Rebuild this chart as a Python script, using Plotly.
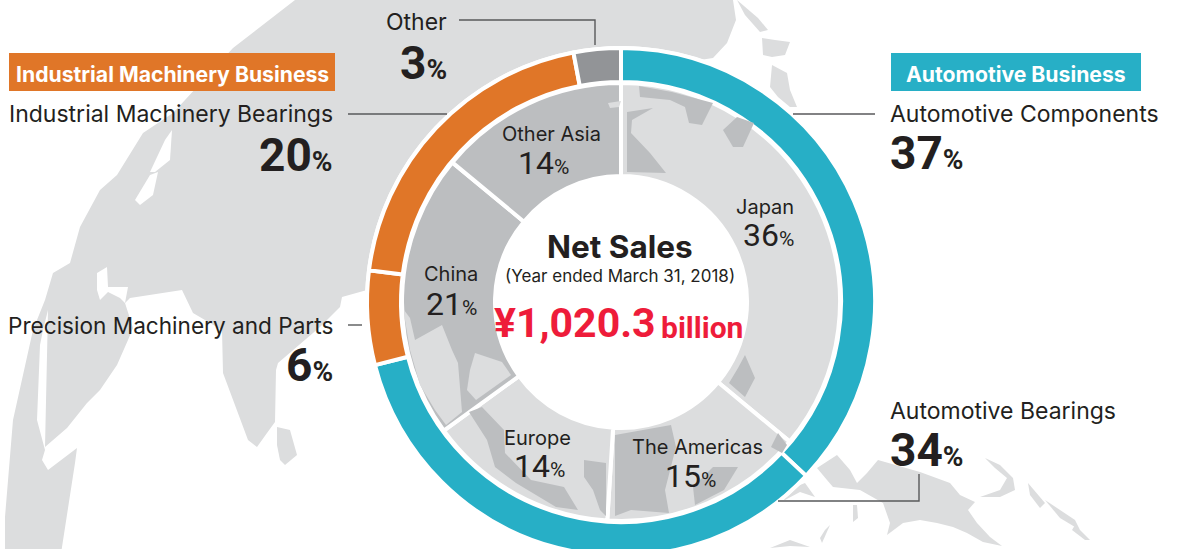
import plotly.graph_objects as go

# ---- data ----
business_labels = ["Automotive Components", "Automotive Bearings", "Precision Machinery and Parts",
                   "Industrial Machinery Bearings", "Other"]
business_values = [37, 34, 6, 20, 3]
business_colors = ["#27afc6", "#27afc6", "#e07628", "#e07628", "#929497"]

region_labels = ["Japan", "The Americas", "Europe", "China", "Other Asia"]
region_values = [36, 15, 14, 21, 14]
region_colors = ["#dcddde", "#dcddde", "#dcddde", "#bcbec0", "#bcbec0"]

INK = "#231f20"
LIGHT = "#dcddde"
DARK = "#bcbec0"
FONT = "Inter"
NUM = "Roboto"
W, H = 1177, 560
CX, CY = 621, 302

# ---- decorative background map (pixel outlines) ----
map_land = [
    [(295,0),(233,48),(173,113),(143,133),(117,175),(100,190),(80,227),(70,263),(53,273),(45,300),(33,330),(13,420),(5,517),(5,560),
     (60,560),(75,463),(77,448),(48,470),(42,460),(45,450),(37,420),(40,345),(43,330),(48,310),(45,447),(67,428),(87,403),(100,390),(117,365),(128,340),(133,328),
     (125,303),(130,298),(182,290),(193,313),(222,330),(223,373),(248,440),(257,447),(267,433),(275,422),(276,370),(278,363),(320,327),(340,307),(342,297),(367,290),
     (621,302),(700,60),(713,58),(727,43),(736,20),(733,0)],
    [(277,427),(290,430),(297,455),(285,465),(280,460),(277,445)],
    [(737,0),(758,18),(768,30),(760,32),(745,15)],
    [(762,38),(775,40),(790,42),(785,55),(772,57),(763,55)],
    [(772,65),(787,73),(790,90),(797,107),(790,107),(778,97),(770,87)],
    # Papua
    [(817,468),(837,455),(850,470),(857,483),(867,473),(878,460),(920,472),(950,483),(960,495),(975,502),(968,510),(977,523),
     (990,537),(1002,546),(983,542),(967,533),(953,527),(937,523),(920,520),(903,523),(887,535),(890,523),(883,503),(860,490),(833,487),(827,480)],
    # small islands
    [(985,458),(1000,465),(1013,478),(1015,490),(1000,497),(980,497),(1000,490),(1007,478),(995,468)],
    [(1028,483),(1045,503),(1040,508),(1030,495)],
    [(1045,500),(1075,520),(1080,530),(1060,518)],
    [(1075,525),(1090,540),(1085,540),(1072,530)],
    [(853,505),(857,505),(858,518),(853,522)],
    [(775,495),(805,483),(815,497),(800,492),(785,500)],
    [(825,530),(830,525),(822,543),(820,538)],
    [(770,548),(790,540),(810,547),(790,546)],
]
map_white = [
    [(97,273),(107,267),(108,287),(128,287),(125,303),(120,298),(108,292),(100,300),(97,290)],
    [(135,200),(150,175),(158,172),(153,195),(140,205)],
    [(150,172),(165,140),(172,130),(170,160),(155,172)],
]
inner_dark = [
    [(627,112),(653,108),(632,120),(631,133),(650,153),(666,173),(627,172)],
    [(639,86),(672,92),(713,103),(702,125),(689,123),(685,107),(670,100),(640,97)],
    [(723,130),(737,117),(754,123),(743,147),(733,147)],
    [(745,355),(755,378),(745,397),(729,383),(738,368)],
    [(469,412),(482,407),(504,430),(505,453),(531,480),(564,487),(578,510),(556,507),(516,483),(495,467),(487,440)],
    [(584,460),(606,463),(606,516),(600,510),(593,490),(584,477)],
    [(615,435),(671,425),(676,447),(665,490),(669,513),(631,510),(615,516)],
    [(738,467),(724,490),(695,505),(693,487),(713,467)],
    [(778,433),(787,445),(782,453),(771,447)],
]
inner_light = [
    [(404,310),(410,318),(415,340),(442,325),(452,350),(458,363),(462,412),(446,425),(435,410),(420,385),(410,350),(405,320)],
    [(475,353),(502,362),(511,375),(476,400),(467,390),(470,370)],
    [(608,103),(621,101),(619,107),(610,108)],
]


def path(pts):
    return "M " + " L ".join(f"{x},{y}" for x, y in pts) + " Z"


def poly(pts, color, layer):
    return dict(type="path", path=path(pts), xref="x", yref="y", fillcolor=color,
                line=dict(width=0), layer=layer)


def leader(pts):
    return dict(type="path", path="M " + " L ".join(f"{x},{y}" for x, y in pts), xref="x", yref="y",
                line=dict(color="#58595b", width=1.4), layer="above")


def dom(cx, cy, r):
    return dict(x=[(cx - r) / W, (cx + r) / W], y=[1 - (cy + r) / H, 1 - (cy - r) / H])


fig = go.Figure()
fig.add_trace(go.Pie(labels=business_labels, values=business_values, sort=False, direction="clockwise",
                     rotation=0, hole=220 / 254, domain=dom(CX, CY, 254), textinfo="none", hoverinfo="skip",
                     marker=dict(colors=business_colors, line=dict(color="white", width=4)), showlegend=False))
fig.add_trace(go.Pie(labels=region_labels, values=region_values, sort=False, direction="clockwise",
                     rotation=0, hole=126 / 219, domain=dom(CX, CY, 219), textinfo="none", hoverinfo="skip",
                     marker=dict(colors=region_colors, line=dict(color="white", width=4)), showlegend=False))

shapes = [poly(p, LIGHT, "below") for p in map_land]
shapes += [poly(p, "white", "below") for p in map_white]
shapes.append(dict(type="circle", xref="x", yref="y", x0=CX - 256, x1=CX + 256, y0=CY - 256, y1=CY + 256,
                   fillcolor="white", line=dict(width=0), layer="below"))
shapes += [poly(p, DARK, "above") for p in inner_dark]
shapes += [poly(p, LIGHT, "above") for p in inner_light]
shapes += [
    dict(type="rect", xref="x", yref="y", x0=9, x1=335, y0=53, y1=91, fillcolor="#e07628", line=dict(width=0), layer="above"),
    dict(type="rect", xref="x", yref="y", x0=891, x1=1141, y0=53, y1=91, fillcolor="#27afc6", line=dict(width=0), layer="above"),
    leader([(459, 20), (595, 20), (595, 45)]),
    leader([(348, 114), (447, 114)]),
    leader([(348, 325), (362, 325)]),
    leader([(793, 114), (875, 114)]),
    leader([(778, 501), (919, 501), (919, 474)]),
]


def text(x, y, s, size, color=INK, anchor="center", family=FONT):
    return dict(x=x, y=y, xref="x", yref="y", text=s, showarrow=False, xanchor=anchor, yanchor="middle",
                font=dict(family=family, size=size, color=color), align=anchor)


def big(v):
    return f"<b>{v}</b><span style='font-size:28px'><b>%</b></span>"


def mid(v):
    return f"{v}<span style='font-size:21px'>%</span>"


outer_pos = [(888, 114, 153, "left"), (888, 411, 450, "left"), (335, 325, 365, "right"),
             (335, 114, 155, "right"), (449, 22, 63, "right")]
inner_pos = [(765, 207, 768, 235), (697, 447, 690, 476), (537, 438, 539, 466), (451, 274, 451, 304), (551, 134, 543, 163)]

ann = [
    text(172, 74, "<b>Industrial Machinery Business</b>", 21.2, "white"),
    text(1016, 74, "<b>Automotive Business</b>", 21.2, "white"),
    text(620, 246, "<b>Net Sales</b>", 31.5),
    text(620, 276, "(Year ended March 31, 2018)", 17),
    text(492, 323, "<b>¥1,020.3</b>", 41, "#ee1c3a", "left", NUM),
    text(659, 327, "<b>billion</b>", 30, "#ee1c3a", "left", NUM),
]
for lab, val, (x, y1, y2, a) in zip(business_labels, business_values, outer_pos):
    if lab == "Other":
        ann.append(text(416, y1, lab, 23))
    elif lab.startswith("Precision"):
        ann.append(text(x, y1, lab, 22.6, anchor=a))
    else:
        ann.append(text(x, y1, lab, 23, anchor=a))
    ann.append(text(x, y2, big(val), 46, anchor=a, family=NUM))
for lab, val, (x1, y1, x2, y2) in zip(region_labels, region_values, inner_pos):
    ann.append(text(x1, y1, lab, 20))
    ann.append(text(x2, y2, mid(val), 32, family=NUM))

fig.update_layout(
    width=W, height=H, margin=dict(l=0, r=0, t=0, b=0), paper_bgcolor="white", plot_bgcolor="rgba(0,0,0,0)",
    xaxis=dict(range=[0, W], visible=False, fixedrange=True, domain=[0, 1]),
    yaxis=dict(range=[H, 0], visible=False, fixedrange=True, domain=[0, 1]),
    shapes=shapes, annotations=ann, showlegend=False,
)
fig.write_html("out.html", config={"displayModeBar": False},
               post_script="document.body.style.margin='0';document.body.style.overflow='hidden';document.documentElement.style.overflow='hidden';")
